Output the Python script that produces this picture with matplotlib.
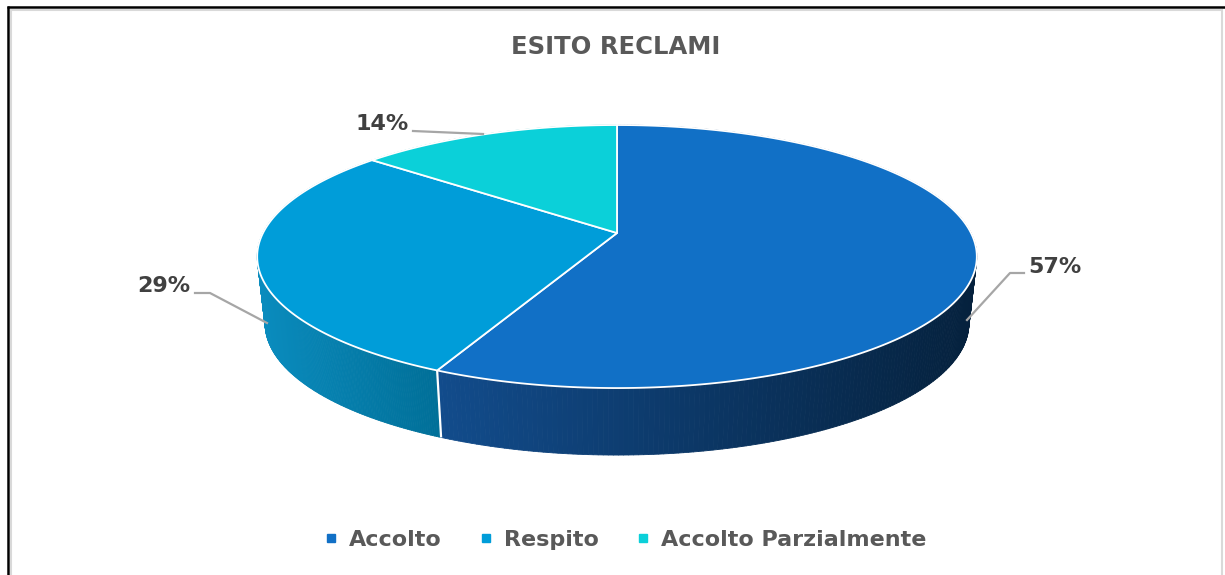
import numpy as np
import matplotlib
matplotlib.use('Agg')
import matplotlib.pyplot as plt
from matplotlib.patches import Polygon
from matplotlib.collections import PolyCollection
from matplotlib.lines import Line2D
from matplotlib.colors import to_rgb

# ---------------- data ----------------
title = "ESITO RECLAMI"
categories = ["Accolto", "Respito", "Accolto Parzialmente"]
values = [57, 29, 14]
top_colors = ["#1170C6", "#009DD9", "#0BD0D9"]
side_light = ["#124C8C", "#0A8CBE", "#0BB8C0"]
side_dark = ["#05213D", "#006F98", "#099AA0"]

# ---------------- figure ----------------
W, H = 1225, 575
fig = plt.figure(figsize=(W / 100, H / 100), dpi=100)
ax = fig.add_axes([0, 0, 1, 1])
ax.set_xlim(0, W)
ax.set_ylim(H, 0)
ax.axis('off')

# perspective ellipse geometry (pixels)
CX, CY = 617, 233
A, B, K = 354, 127.3, 0.179
T = 67
SHRINK = 0.978  # bottom rim slightly narrower (perspective)


def proj(theta, scale=1.0):
    u = np.cos(theta)
    v = np.sin(theta)
    w = 1 + K * v
    return CX + scale * A * u / w, CY - B * v / w


fracs = np.array(values, dtype=float) / sum(values)
cum = np.concatenate([[0], np.cumsum(fracs)]) * 2 * np.pi
th_start = np.pi / 2 - cum[:-1]
th_end = np.pi / 2 - cum[1:]

# ---------------- side walls ----------------
quads, qcols, qdepth = [], [], []
for i in range(len(values)):
    th = np.linspace(th_start[i], th_end[i], 300)
    xs, ys = proj(th)
    xb, yb = proj(th, SHRINK)
    yb = yb + T
    xmin, xmax = xs.min(), xs.max()
    c1, c2 = np.array(to_rgb(side_light[i])), np.array(to_rgb(side_dark[i]))
    for j in range(len(th) - 1):
        q = [(xs[j], ys[j]), (xs[j + 1], ys[j + 1]),
             (xb[j + 1], yb[j + 1]), (xb[j], yb[j])]
        t = ((xs[j] + xs[j + 1]) / 2 - xmin) / (xmax - xmin)
        quads.append(q)
        qcols.append(c1 + (c2 - c1) * t)
        qdepth.append(np.sin((th[j] + th[j + 1]) / 2))
order = np.argsort(qdepth)[::-1]
pc = PolyCollection([quads[o] for o in order], facecolors=[qcols[o] for o in order],
                    edgecolors=[qcols[o] for o in order], linewidths=0.6)
ax.add_collection(pc)

# boundary line on side between first and second slice
bx, by = proj(th_end[0])
bx2, by2 = proj(th_end[0], SHRINK)
ax.plot([bx, bx2], [by, by2 + T], color='white', lw=1.6, solid_capstyle='butt')

# ---------------- top faces ----------------
for i in range(len(values)):
    th = np.linspace(th_start[i], th_end[i], 300)
    xs, ys = proj(th)
    pts = [(CX, CY)] + list(zip(xs, ys))
    ax.add_patch(Polygon(pts, closed=True, facecolor=top_colors[i],
                         edgecolor='white', lw=1.3, joinstyle='round'))

# ---------------- labels with leader lines ----------------
lbl_color = '#404040'
lead_color = '#A6A6A6'
labels = [f"{v}%" for v in values]
# Accolto
ax.plot([967, 1010, 1024], [320, 273, 273], color=lead_color, lw=1.6)
ax.text(1028, 267, labels[0], fontsize=16, fontweight='bold', color=lbl_color,
        ha='left', va='center')
# Respito
ax.plot([267, 210, 195], [323, 293, 293], color=lead_color, lw=1.6)
ax.text(190, 286, labels[1], fontsize=16, fontweight='bold', color=lbl_color,
        ha='right', va='center')
# Accolto Parzialmente
ax.plot([483, 413], [134, 131], color=lead_color, lw=1.6)
ax.text(409, 124, labels[2], fontsize=16, fontweight='bold', color=lbl_color,
        ha='right', va='center')

# ---------------- title ----------------
ax.text(616, 47, title, fontsize=17.5, fontweight='bold', color='#595959',
        ha='center', va='center')

# ---------------- legend ----------------
handles = [Line2D([], [], marker='s', linestyle='none', markersize=6,
                  markerfacecolor=c, markeredgecolor=c) for c in top_colors]
fig.legend(handles, categories, loc='center', ncol=3, frameon=False,
           bbox_to_anchor=(626 / W, 1 - 540 / H),
           prop={'weight': 'bold', 'size': 16}, labelcolor='#595959',
           handlelength=0.5, handletextpad=0.55, columnspacing=1.75)

# ---------------- border ----------------
ax.plot([7, W], [6.5, 6.5], color='black', lw=1.8, solid_capstyle='butt')
ax.plot([7.5, 7.5], [6, H], color='black', lw=1.8, solid_capstyle='butt')
ax.plot([10, W - 3], [9.5, 9.5], color='#D9D9D9', lw=1.5, solid_capstyle='butt')
ax.plot([10.5, 10.5], [9, H], color='#D9D9D9', lw=1.5, solid_capstyle='butt')
ax.plot([1222, 1222], [9, H], color='#D9D9D9', lw=1.5, solid_capstyle='butt')

fig.savefig('out.png', dpi=100)
